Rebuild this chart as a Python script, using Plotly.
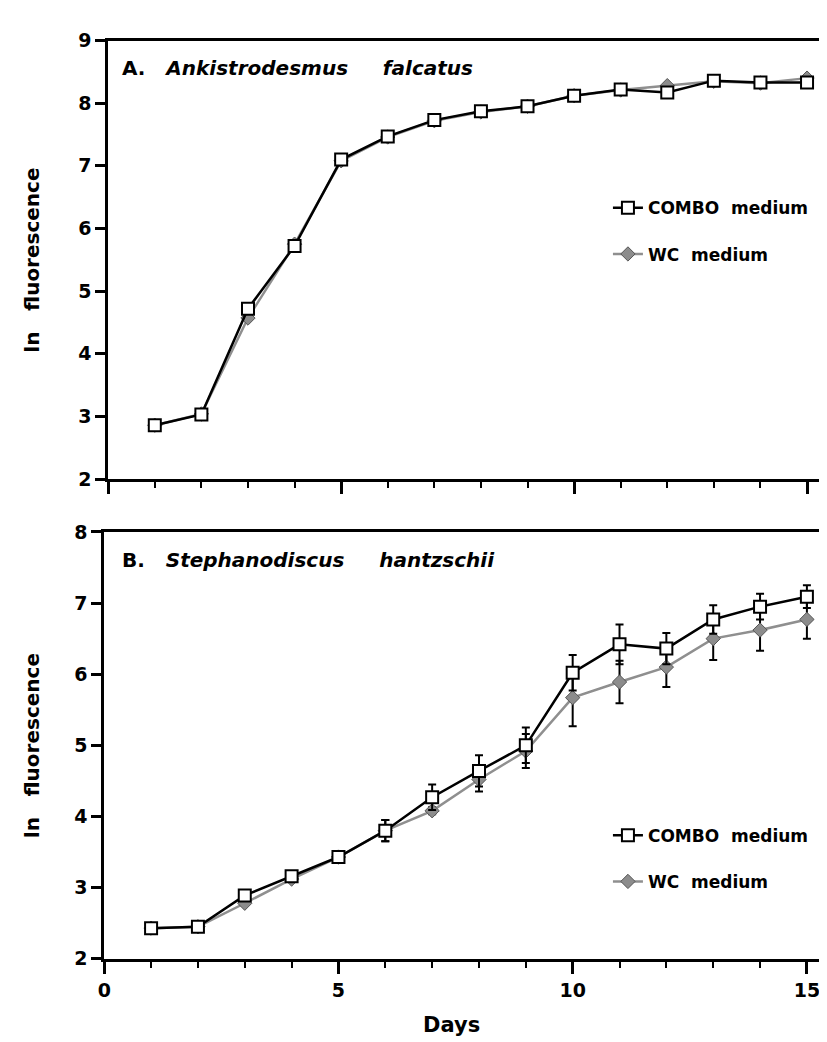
import plotly.graph_objects as go

days = list(range(1, 16))

# Panel A: Ankistrodesmus falcatus
a_combo = [2.86, 3.03, 4.72, 5.72, 7.10, 7.47, 7.73, 7.87, 7.95, 8.12, 8.22, 8.17, 8.36, 8.33, 8.33]
a_wc = [2.86, 3.04, 4.57, 5.75, 7.08, 7.46, 7.72, 7.86, 7.95, 8.12, 8.21, 8.28, 8.35, 8.32, 8.40]

# Panel B: Stephanodiscus hantzschii
b_combo = [2.43, 2.45, 2.89, 3.16, 3.43, 3.80, 4.27, 4.64, 5.00, 6.02, 6.42, 6.36, 6.77, 6.95, 7.09]
b_combo_err = [0, 0, 0, 0, 0, 0.15, 0.18, 0.22, 0.25, 0.25, 0.28, 0.22, 0.20, 0.18, 0.16]
b_wc = [2.43, 2.45, 2.78, 3.12, 3.43, 3.80, 4.08, 4.52, 4.92, 5.67, 5.89, 6.10, 6.50, 6.62, 6.77]
b_wc_err = [0, 0, 0, 0, 0, 0.15, 0.05, 0.17, 0.24, 0.40, 0.30, 0.28, 0.30, 0.29, 0.27]

FONT = "DejaVu Sans, Liberation Sans, Arial, sans-serif"
NB = "\u00a0"

combo_marker = dict(symbol="square", size=12, color="white", line=dict(color="black", width=2))
wc_marker = dict(symbol="diamond", size=11, color="#8c8c8c", line=dict(color="#555555", width=1))
combo_line = dict(color="black", width=2.5)
wc_line = dict(color="#8f8f8f", width=2.5)

fig = go.Figure()

# top panel
fig.add_trace(go.Scatter(x=days, y=a_wc, mode="lines+markers", name="WC" + NB * 2 + "medium",
                         line=wc_line, marker=wc_marker, xaxis="x", yaxis="y",
                         legend="legend", legendgroup="a_wc", legendrank=2))
fig.add_trace(go.Scatter(x=days, y=a_combo, mode="lines+markers", name="COMBO" + NB * 2 + "medium",
                         line=combo_line, marker=combo_marker, xaxis="x", yaxis="y",
                         legend="legend", legendgroup="a_combo", legendrank=1))

# bottom panel
fig.add_trace(go.Scatter(x=days, y=b_wc, mode="lines+markers", name="WC" + NB * 2 + "medium",
                         line=wc_line, marker=wc_marker, xaxis="x2", yaxis="y2",
                         error_y=dict(type="data", array=b_wc_err, color="black", thickness=2, width=4),
                         legend="legend2", legendgroup="b_wc", legendrank=2))
fig.add_trace(go.Scatter(x=days, y=b_combo, mode="lines+markers", name="COMBO" + NB * 2 + "medium",
                         line=combo_line, marker=combo_marker, xaxis="x2", yaxis="y2",
                         error_y=dict(type="data", array=b_combo_err, color="black", thickness=2, width=4),
                         legend="legend2", legendgroup="b_combo", legendrank=1))

W, H = 827, 1042

def py(p):
    return 1 - p / H

tickfont = dict(family=FONT, size=19, color="black", weight="bold")

xcommon = dict(range=[0, 15.6], dtick=5, tick0=0, ticks="outside", ticklen=12, tickwidth=2.5,
               tickcolor="black", showline=True, linewidth=3, linecolor="black", mirror=True,
               showgrid=False, zeroline=False, tickfont=tickfont,
               minor=dict(dtick=1, tick0=0, ticks="outside", ticklen=6, tickwidth=2, tickcolor="black",
                          showgrid=False))
ycommon = dict(dtick=1, ticks="outside", ticklen=10, tickwidth=2.5, tickcolor="black",
               showline=True, linewidth=3, linecolor="black", showgrid=False, zeroline=False,
               tickfont=tickfont)

legfont = dict(family=FONT, size=17, color="black", weight="bold")

fig.update_layout(
    width=W, height=H,
    margin=dict(l=0, r=0, t=0, b=0),
    paper_bgcolor="white", plot_bgcolor="white",
    xaxis=dict(domain=[94 / W, 1], anchor="y", showticklabels=False, **xcommon),
    yaxis=dict(domain=[py(470), py(22)], range=[2, 9], anchor="x", **ycommon),
    xaxis2=dict(domain=[90 / W, 1], anchor="y2", showticklabels=True, **xcommon),
    yaxis2=dict(domain=[py(960), py(524)], range=[2, 8], anchor="x2", **ycommon),
    legend=dict(x=598 / W, y=py(175), xanchor="left", yanchor="top", font=legfont,
                bgcolor="rgba(0,0,0,0)", tracegroupgap=21, traceorder="grouped"),
    legend2=dict(x=598 / W, y=py(816), xanchor="left", yanchor="top", font=legfont,
                 bgcolor="rgba(0,0,0,0)", tracegroupgap=21, traceorder="grouped"),
    showlegend=True,
)

titlefont = dict(family=FONT, size=20, color="black", weight="bold")
fig.add_annotation(text="A." + NB * 3 + "<i>Ankistrodesmus" + NB * 5 + "falcatus</i>",
                   x=106 / W, y=py(50), xref="paper", yref="paper", xanchor="left", yanchor="middle",
                   showarrow=False, font=titlefont)
fig.add_annotation(text="B." + NB * 3 + "<i>Stephanodiscus" + NB * 5 + "hantzschii</i>",
                   x=106 / W, y=py(553), xref="paper", yref="paper", xanchor="left", yanchor="middle",
                   showarrow=False, font=titlefont)
fig.add_annotation(text="ln" + NB * 3 + "fluorescence", textangle=-90,
                   x=17 / W, y=py(246), xref="paper", yref="paper", xanchor="center", yanchor="middle",
                   showarrow=False, font=titlefont)
fig.add_annotation(text="ln" + NB * 3 + "fluorescence", textangle=-90,
                   x=17 / W, y=py(742), xref="paper", yref="paper", xanchor="center", yanchor="middle",
                   showarrow=False, font=titlefont)
fig.add_annotation(text="Days", x=440 / W, y=py(1028), xref="paper", yref="paper",
                   xanchor="center", yanchor="middle", showarrow=False,
                   font=dict(family=FONT, size=21, color="black", weight="bold"))

fig.write_html("out.html")
